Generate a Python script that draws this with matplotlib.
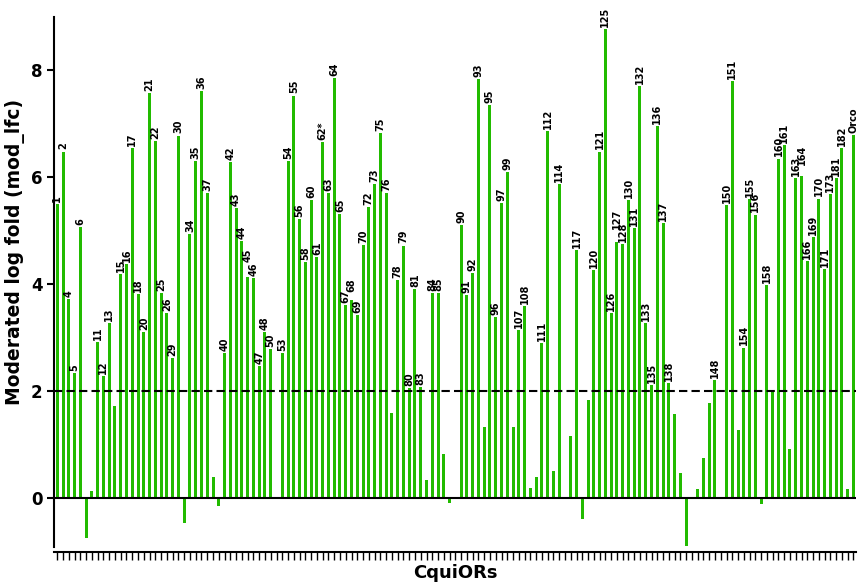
import matplotlib.pyplot as plt

# Bar labels (empty string = no label shown above the bar)
labels = ["1", "2", "4", "5", "6", "", "", "11", "12", "13",
          "", "15", "16", "17", "18", "20", "21", "22", "25", "26",
          "29", "30", "", "34", "35", "36", "37", "", "", "40",
          "42", "43", "44", "45", "46", "47", "48", "50", "", "53",
          "54", "55", "56", "58", "60", "61", "62*", "63", "64", "65",
          "67", "68", "69", "70", "72", "73", "75", "76", "", "78",
          "79", "80", "81", "83", "", "84", "85", "", "", "",
          "90", "91", "92", "93", "", "95", "96", "97", "99", "",
          "107", "108", "", "", "111", "112", "", "114", "", "",
          "117", "", "", "120", "121", "125", "126", "127", "128", "130",
          "131", "132", "133", "135", "136", "137", "138", "", "", "",
          "", "", "", "", "148", "", "150", "151", "", "154",
          "155", "156", "", "158", "", "160", "161", "", "163", "164",
          "166", "169", "170", "171", "173", "181", "182", "", "Orco"]

# Moderated log fold change per receptor
mod_lfc = [5.50, 6.48, 3.72, 2.34, 5.06, -0.75, 0.13, 2.92, 2.28, 3.27,
           1.72, 4.18, 4.38, 6.55, 3.81, 3.10, 7.57, 6.68, 3.83, 3.45,
           2.62, 6.78, -0.48, 4.93, 6.31, 7.62, 5.70, 0.38, -0.15, 2.71,
           6.29, 5.42, 4.81, 4.13, 4.11, 2.47, 3.10, 2.78, 0.0, 2.71,
           6.31, 7.53, 5.21, 4.41, 5.58, 4.51, 6.66, 5.70, 7.86, 5.31,
           3.61, 3.70, 3.41, 4.73, 5.44, 5.88, 6.83, 5.70, 1.58, 4.08,
           4.72, 2.05, 3.91, 2.07, 0.32, 3.83, 3.83, 0.82, -0.10, 0.0,
           5.10, 3.79, 4.20, 7.83, 1.33, 7.36, 3.38, 5.52, 6.09, 1.33,
           3.13, 3.58, 0.18, 0.38, 2.90, 6.86, 0.50, 5.88, 0.0, 1.16,
           4.64, -0.41, 1.82, 4.26, 6.48, 8.77, 3.46, 4.78, 4.74, 5.58,
           5.05, 7.70, 3.27, 2.10, 6.95, 5.14, 2.15, 1.56, 0.46, -0.91,
           0.0, 0.16, 0.74, 1.78, 2.20, 0.0, 5.47, 7.80, 1.26, 2.81,
           5.59, 5.30, -0.12, 3.98, 2.02, 6.35, 6.60, 0.91, 5.98, 6.03,
           4.43, 4.88, 5.60, 4.28, 5.68, 5.98, 6.55, 0.16, 6.79]

threshold = 2

# a few labels sit higher in the original so neighbours don't collide (points)
label_nudge = {"45": 9, "127": 8, "164": 6, "68": 4}

plt.rcParams["font.family"] = ["DejaVu Sans"]

fig = plt.figure(figsize=(8.59, 5.85), dpi=100)
ax = fig.add_axes([0.0633, 0.0564, 0.9336, 0.9145])

x = list(range(len(mod_lfc)))
ax.bar(x, mod_lfc, width=0.52, color="#22bb00", zorder=2)

# Receptor number above each labelled bar
for xi, val, lab in zip(x, mod_lfc, labels):
    if lab:
        ax.annotate(lab, (xi, max(val, 0)), xytext=(0, 1.5 + label_nudge.get(lab, 0)),
                    textcoords="offset points", rotation=90, ha="center", va="bottom",
                    fontsize=7, fontweight="bold")

ax.axhline(0, color="black", lw=1.5, zorder=3)
ax.axhline(threshold, color="black", lw=1.5, ls=(0, (4, 2)), zorder=3)

ax.set_xlim(-0.5, len(mod_lfc) - 0.5)
ax.set_ylim(-1.02, 9.0)

# Prism-like axes
for side in ["top", "right"]:
    ax.spines[side].set_visible(False)
ax.spines["left"].set_linewidth(1.5)
ax.spines["left"].set_bounds(-0.92, 9.0)
ax.spines["bottom"].set_linewidth(1.5)

ax.set_yticks([0, 2, 4, 6, 8])
ax.tick_params(axis="y", length=5, width=1.5, labelsize=12)
for t in ax.get_yticklabels():
    t.set_fontweight("bold")
ax.set_xticks(x)
ax.set_xticklabels([])
ax.tick_params(axis="x", length=6, width=1.0)

ax.set_ylabel("Moderated log fold (mod_lfc)", fontsize=13.5, fontweight="bold")
ax.yaxis.set_label_coords(-0.037, 0.56)
ax.set_xlabel("CquiORs", fontsize=13, fontweight="bold")
ax.xaxis.set_label_coords(0.5, -0.022)

fig.savefig("out.png", dpi=100)
